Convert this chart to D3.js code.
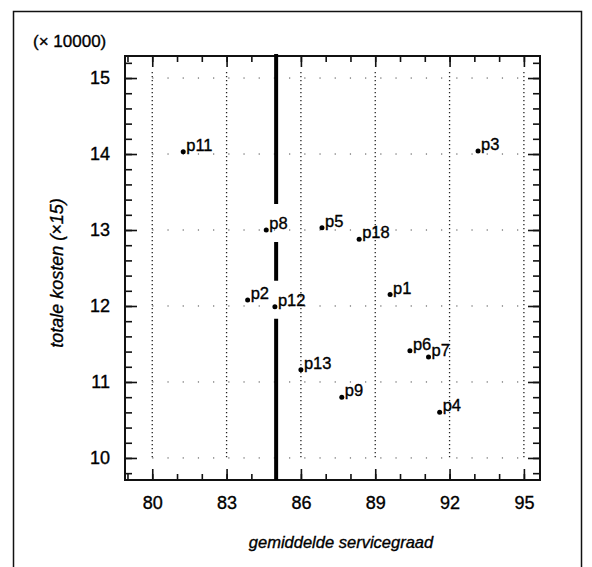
<!DOCTYPE html>
<html>
<head>
<meta charset="utf-8">
<script src="https://cdn.jsdelivr.net/npm/d3@7"></script>
<style>
  body { margin: 0; background: #fff; }
  svg { display: block; }
  text { fill: #000; stroke: #000; stroke-width: 0.35px; font-family: "Liberation Sans", Arial, sans-serif; }
  .axis-label { font-style: italic; }
</style>
</head>
<body>
<svg width="592" height="567"></svg>
<script>
// data
const names = ['p1', 'p2', 'p3', 'p4', 'p5', 'p6', 'p7', 'p8', 'p9', 'p11', 'p12', 'p13', 'p18'];
const service = [89.6, 83.85, 93.15, 91.6, 86.85, 90.4, 91.15, 84.6, 87.65, 81.25, 84.95, 86.0, 88.35];
const costs = [12.15, 12.08, 14.04, 10.6, 13.03, 11.41, 11.33, 13.0, 10.8, 14.03, 11.99, 11.16, 12.88];
const xTicks = [80, 83, 86, 89, 92, 95];
const yTicks = [10, 11, 12, 13, 14, 15];
const norm = 85;

const svg = d3.select('svg');
const width = +svg.attr('width');
const height = +svg.attr('height');

svg.append('rect')
    .attr('width', width)
    .attr('height', height)
    .attr('fill', '#fff');

// outer frame (bottom edge runs off the page)
svg.append('rect')
    .attr('x', 13.5)
    .attr('y', 11.5)
    .attr('width', 568)
    .attr('height', 600)
    .attr('fill', 'none')
    .attr('stroke', '#111')
    .attr('stroke-width', 1.5);

const margin = {top: 56, right: 52, bottom: 87, left: 125};
const innerWidth = width - margin.left - margin.right;
const innerHeight = height - margin.top - margin.bottom;

const xScale = d3.scaleLinear()
    .domain([78.9, 95.65])
    .range([0, innerWidth]);

const yScale = d3.scaleLinear()
    .domain([9.71, 15.29])
    .range([innerHeight, 0]);

const g = svg.append('g')
    .attr('transform', `translate(${margin.left}, ${margin.top})`);

// grid
g.selectAll('.vgrid').data(xTicks).enter().append('line')
    .attr('class', 'vgrid')
    .attr('x1', d => xScale(d)).attr('x2', d => xScale(d))
    .attr('y1', yScale(15) - 6).attr('y2', yScale(10) + 2)
    .attr('stroke', '#222')
    .attr('stroke-width', 1.3)
    .attr('stroke-dasharray', '1.3,2.7');

g.selectAll('.hgrid').data(yTicks).enter().append('line')
    .attr('class', 'hgrid')
    .attr('x1', xScale(80)).attr('x2', xScale(95))
    .attr('y1', d => yScale(d)).attr('y2', d => yScale(d))
    .attr('stroke', '#444')
    .attr('stroke-width', 1)
    .attr('stroke-dasharray', '1.2,14');

const xMinor = d3.range(79, 96, 1);
const yMinor = d3.range(9.8, 15.21, 0.2).map(d => +d.toFixed(1));

// tick marks only, no labels
const marks = (axis, tx, ty) => {
    const a = g.append('g')
        .attr('transform', `translate(${tx}, ${ty})`)
        .call(axis);
    a.selectAll('text').remove();
    return a;
};

// minor ticks on all four sides
marks(d3.axisBottom(xScale).tickValues(xMinor).tickSize(-6), 0, innerHeight);
marks(d3.axisTop(xScale).tickValues(xMinor).tickSize(-6), 0, 0);
marks(d3.axisLeft(yScale).tickValues(yMinor).tickSize(-7), 0, 0);
marks(d3.axisRight(yScale).tickValues(yMinor).tickSize(-7), innerWidth, 0);

// major ticks, labelled on bottom and left
const xAxisG = g.append('g').attr('transform', `translate(0, ${innerHeight})`)
    .call(d3.axisBottom(xScale).tickValues(xTicks).tickSize(-11).tickPadding(16).tickFormat(d3.format('d')));
const yAxisG = g.append('g')
    .call(d3.axisLeft(yScale).tickValues(yTicks).tickSize(-12).tickPadding(15).tickFormat(d3.format('d')));
marks(d3.axisTop(xScale).tickValues(xTicks).tickSize(-11), 0, 0);
marks(d3.axisRight(yScale).tickValues(yTicks).tickSize(-12), innerWidth, 0);

[xAxisG, yAxisG].forEach(a => a.attr('font-size', 18).attr('font-family', null));

g.selectAll('.domain').remove();
g.selectAll('.tick line').attr('stroke', '#111').attr('stroke-width', 1.6);

// plot box
g.append('rect')
    .attr('width', innerWidth)
    .attr('height', innerHeight)
    .attr('fill', 'none')
    .attr('stroke', '#111')
    .attr('stroke-width', 2);

// thick norm line, broken where it meets point labels
const near = d3.range(names.length)
    .filter(i => Math.abs(service[i] - norm) < 0.5)
    .map(i => yScale(costs[i]))
    .sort((a, b) => a - b);
const segs = [];
let start = -2;
near.forEach(py => {
    segs.push([start, py - 26]);
    start = py + 12;
});
segs.push([start, innerHeight]);
g.selectAll('.norm').data(segs).enter().append('line')
    .attr('class', 'norm')
    .attr('x1', xScale(norm)).attr('x2', xScale(norm))
    .attr('y1', d => d[0]).attr('y2', d => d[1])
    .attr('stroke', '#000')
    .attr('stroke-width', 4);

// points and labels
const idx = d3.range(names.length);
g.selectAll('circle').data(idx).enter().append('circle')
    .attr('cx', i => xScale(service[i]))
    .attr('cy', i => yScale(costs[i]))
    .attr('r', 2.5)
    .attr('fill', '#000');

g.selectAll('.point-label').data(idx).enter().append('text')
    .attr('class', 'point-label')
    .attr('font-size', 16.5)
    .attr('x', i => xScale(service[i]) + 3)
    .attr('y', i => yScale(costs[i]) - 1)
    .text(i => names[i]);

// titles
svg.append('text')
    .attr('x', 33)
    .attr('y', 47)
    .attr('font-size', 17)
    .text('(× 10000)');

svg.append('text')
    .attr('class', 'axis-label')
    .attr('font-size', 18)
    .attr('transform', `translate(63, 273) rotate(-90)`)
    .attr('text-anchor', 'middle')
    .text('totale kosten (×15)');

svg.append('text')
    .attr('class', 'axis-label')
    .attr('font-size', 16.5)
    .attr('x', 341)
    .attr('y', 548)
    .attr('text-anchor', 'middle')
    .text('gemiddelde servicegraad');
</script>
</body>
</html>
